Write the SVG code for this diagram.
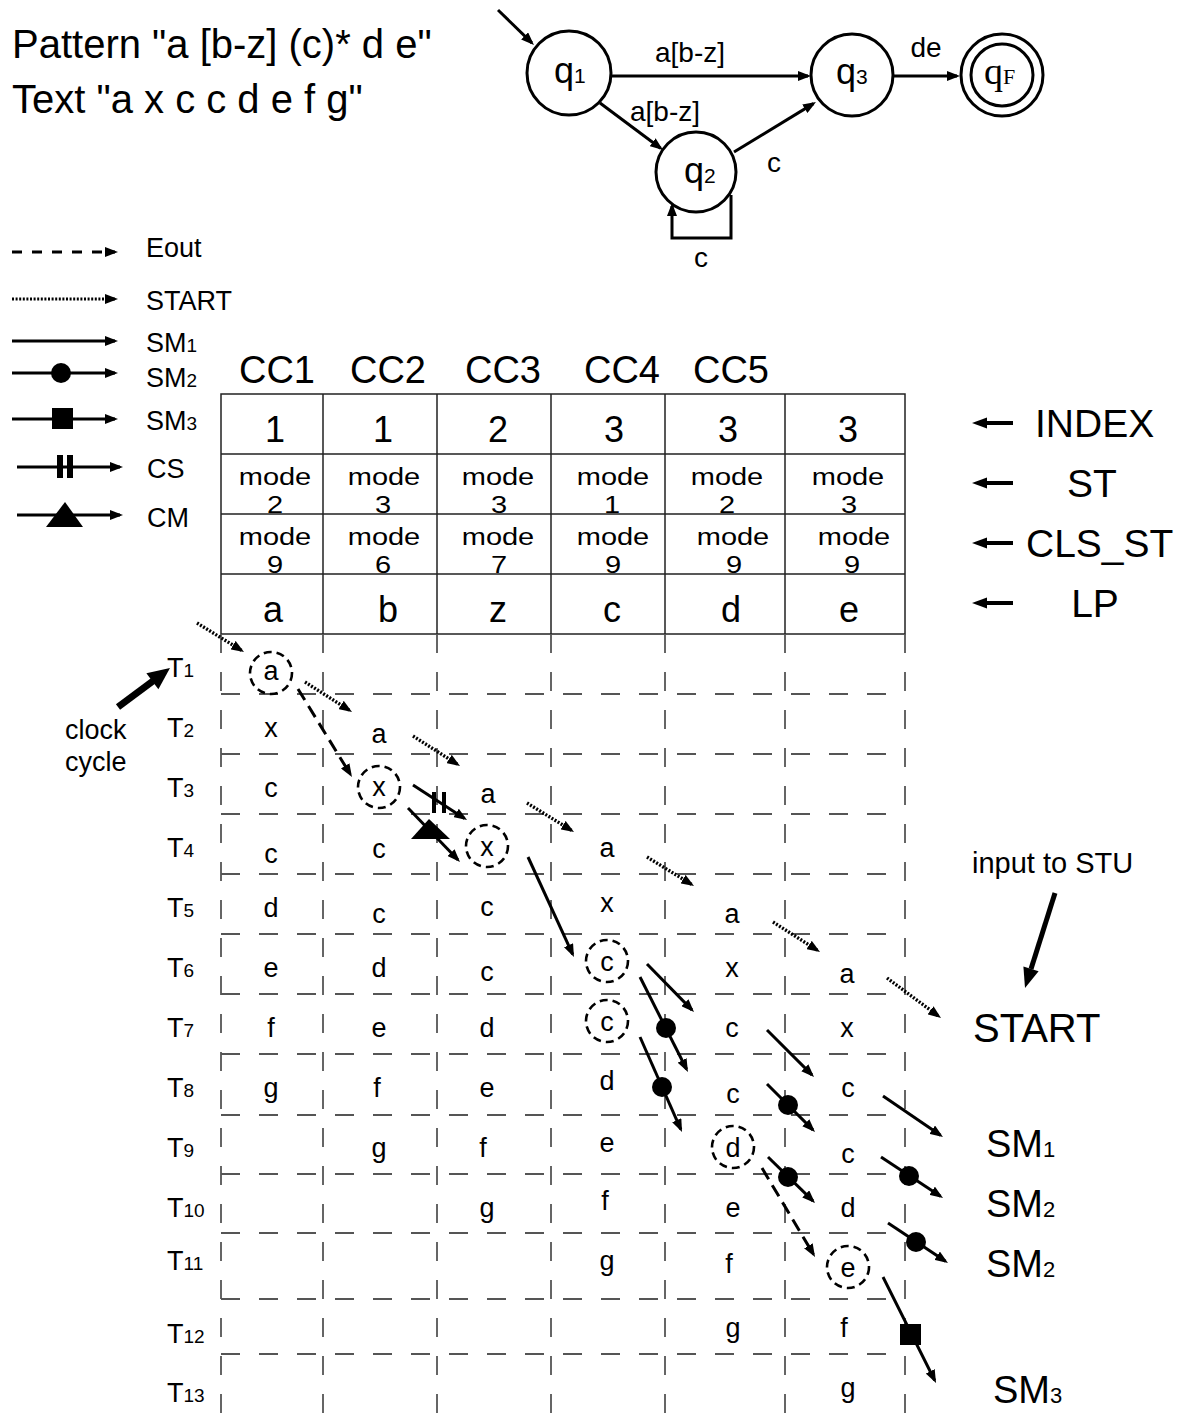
<svg xmlns="http://www.w3.org/2000/svg" width="1184" height="1416" viewBox="0 0 1184 1416">
<defs>
<style>
.t{font-family:"Liberation Sans",Arial,sans-serif;fill:#000}
.s{font-family:"Liberation Serif","Times New Roman",serif;fill:#000}
.m{text-anchor:middle}
.grid{stroke:#555;stroke-width:1.8;stroke-dasharray:19 19;fill:none}
.tbl{stroke:#222;stroke-width:1.5;fill:none}
.ar{stroke:#000;stroke-width:3;fill:none;marker-end:url(#ah)}
.dot{stroke-dasharray:2 1.6;stroke-width:3.4}
.dsh{stroke-dasharray:13 7}
.circ{stroke:#000;stroke-width:2.6;stroke-dasharray:8 5;fill:none}
.node{stroke:#000;stroke-width:3;fill:#fff}
.thick{stroke:#000;fill:none}
</style>
<marker id="ah" markerWidth="13" markerHeight="10" refX="10" refY="5" orient="auto" markerUnits="userSpaceOnUse"><path d="M0,0L13,5L0,10z" fill="#000"/></marker>
</defs>
<rect width="1184" height="1416" fill="#fff"/>

<!-- titles -->
<g id="titles">
<text class="t" x="12" y="58" font-size="40">Pattern "a [b-z] (c)* d e"</text>
<text class="t" x="12" y="113" font-size="40">Text "a x c c d e f g"</text>
</g>

<!-- automaton -->
<g id="q1"><circle class="node" cx="569" cy="73" r="42"/><text class="t" x="554" y="83" font-size="36">q<tspan font-size="21">1</tspan></text></g>
<g id="q2"><circle class="node" cx="696" cy="172" r="40"/><text class="t" x="684" y="183" font-size="36">q<tspan font-size="21">2</tspan></text></g>
<g id="q3"><circle class="node" cx="852" cy="75" r="41"/><text class="t" x="836" y="84" font-size="36">q<tspan font-size="21">3</tspan></text></g>
<g id="qF"><circle class="node" cx="1002" cy="75" r="41"/><circle class="node" cx="1002" cy="75" r="31"/><text class="s" x="984" y="84" font-size="38">q<tspan font-size="22">F</tspan></text></g>

<!-- legend -->
<g id="legend">
<line class="ar dsh" x1="12" y1="252" x2="115" y2="252" style="stroke-dasharray:10 10"/>
<text class="t" x="146" y="257" font-size="27">Eout</text>
<line class="ar dot" x1="12" y1="299" x2="115" y2="299" style="stroke-width:3"/>
<text class="t" x="146" y="310" font-size="27">START</text>
<line class="ar" x1="12" y1="341" x2="115" y2="341"/>
<text class="t" x="146" y="352" font-size="27">SM<tspan font-size="19">1</tspan></text>
<line class="ar" x1="12" y1="373" x2="115" y2="373"/>
<circle cx="61" cy="373" r="10" fill="#000"/>
<text class="t" x="146" y="387" font-size="27">SM<tspan font-size="19">2</tspan></text>
<line class="ar" x1="12" y1="419" x2="115" y2="419"/>
<rect x="52" y="408" width="21" height="21" fill="#000"/>
<text class="t" x="146" y="430" font-size="27">SM<tspan font-size="19">3</tspan></text>
<line class="ar" x1="17" y1="467" x2="120" y2="467"/>
<rect x="57" y="455" width="6" height="23" fill="#000"/>
<rect x="67" y="455" width="6" height="23" fill="#000"/>
<text class="t" x="147" y="478" font-size="27">CS</text>
<line class="ar" x1="17" y1="515" x2="120" y2="515"/>
<polygon points="46,527 83,527 65,502" fill="#000"/>
<text class="t" x="147" y="527" font-size="27">CM</text>
</g>

<!-- table -->
<g id="table">
<rect class="tbl" x="221" y="394" width="684" height="240"/>
<path class="tbl" d="M221,454H905M221,514H905M221,574H905M323,394V634M437,394V634M551,394V634M665,394V634M785,394V634"/>
<g class="t m" font-size="38">
<text x="277" y="383">CC1</text><text x="388" y="383">CC2</text><text x="503" y="383">CC3</text><text x="622" y="383">CC4</text><text x="731" y="383">CC5</text>
</g>
<g class="t m" font-size="36">
<text x="275" y="442">1</text><text x="383" y="442">1</text><text x="498" y="442">2</text><text x="614" y="442">3</text><text x="728" y="442">3</text><text x="848" y="442">3</text>
<text x="273" y="622">a</text><text x="388" y="622">b</text><text x="498" y="622">z</text><text x="612" y="622">c</text><text x="731" y="622">d</text><text x="849" y="622">e</text>
</g>
<g class="t m" font-size="29">
<text transform="translate(275,485) scale(1,0.84)">mode</text><text transform="translate(275,513) scale(1,0.84)">2</text>
<text transform="translate(384,485) scale(1,0.84)">mode</text><text transform="translate(383,513) scale(1,0.84)">3</text>
<text transform="translate(498,485) scale(1,0.84)">mode</text><text transform="translate(499,513) scale(1,0.84)">3</text>
<text transform="translate(613,485) scale(1,0.84)">mode</text><text transform="translate(612,513) scale(1,0.84)">1</text>
<text transform="translate(727,485) scale(1,0.84)">mode</text><text transform="translate(727,513) scale(1,0.84)">2</text>
<text transform="translate(848,485) scale(1,0.84)">mode</text><text transform="translate(849,513) scale(1,0.84)">3</text>
<text transform="translate(275,545) scale(1,0.84)">mode</text><text transform="translate(275,573) scale(1,0.84)">9</text>
<text transform="translate(384,545) scale(1,0.84)">mode</text><text transform="translate(383,573) scale(1,0.84)">6</text>
<text transform="translate(498,545) scale(1,0.84)">mode</text><text transform="translate(499,573) scale(1,0.84)">7</text>
<text transform="translate(613,545) scale(1,0.84)">mode</text><text transform="translate(613,573) scale(1,0.84)">9</text>
<text transform="translate(733,545) scale(1,0.84)">mode</text><text transform="translate(734,573) scale(1,0.84)">9</text>
<text transform="translate(854,545) scale(1,0.84)">mode</text><text transform="translate(852,573) scale(1,0.84)">9</text>
</g>
</g>

<!-- right labels -->
<g id="row-labels">
<g fill="#000">
<rect x="984" y="421" width="29" height="4"/><polygon points="972,423 987,417.5 987,428.5"/>
<rect x="984" y="481" width="29" height="4"/><polygon points="972,483 987,477.5 987,488.5"/>
<rect x="984" y="541" width="29" height="4"/><polygon points="972,543 987,537.5 987,548.5"/>
<rect x="984" y="601" width="29" height="4"/><polygon points="972,603 987,597.5 987,608.5"/>
</g>
<text class="t" x="1035" y="437" font-size="39">INDEX</text>
<text class="t m" x="1092" y="497" font-size="39">ST</text>
<text class="t" x="1026" y="557" font-size="39">CLS_ST</text>
<text class="t m" x="1095" y="617" font-size="39">LP</text>
</g>

<!-- grid -->
<g id="grid">
<path class="grid" d="M221,694H905M221,754H905M221,814H905M221,874H905M221,934H905M221,994H905M221,1054H905M221,1115H905M221,1174H905M221,1233H905M221,1299H905M221,1354H905"/>
<path class="grid" d="M221,634V1416M323,634V1416M437,634V1416M551,634V1416M665,634V1416M785,634V1416M905,634V1416"/>
</g>

<g id="time-labels" class="t" font-size="27">
<text x="167" y="677">T<tspan font-size="19">1</tspan></text>
<text x="167" y="737">T<tspan font-size="19">2</tspan></text>
<text x="167" y="797">T<tspan font-size="19">3</tspan></text>
<text x="167" y="857">T<tspan font-size="19">4</tspan></text>
<text x="167" y="917">T<tspan font-size="19">5</tspan></text>
<text x="167" y="977">T<tspan font-size="19">6</tspan></text>
<text x="167" y="1037">T<tspan font-size="19">7</tspan></text>
<text x="167" y="1097">T<tspan font-size="19">8</tspan></text>
<text x="167" y="1157">T<tspan font-size="19">9</tspan></text>
<text x="167" y="1217">T<tspan font-size="19">10</tspan></text>
<text x="167" y="1270">T<tspan font-size="19">11</tspan></text>
<text x="167" y="1343">T<tspan font-size="19">12</tspan></text>
<text x="167" y="1402">T<tspan font-size="19">13</tspan></text>
</g>

<g id="cells" class="t m" font-size="27">
<text x="271" y="680">a</text>
<text x="271" y="737">x</text><text x="379" y="743">a</text>
<text x="271" y="797">c</text><text x="379" y="796">x</text><text x="488" y="803">a</text>
<text x="271" y="863">c</text><text x="379" y="858">c</text><text x="487" y="856">x</text><text x="607" y="857">a</text>
<text x="271" y="917">d</text><text x="379" y="923">c</text><text x="487" y="916">c</text><text x="607" y="912">x</text><text x="732" y="923">a</text>
<text x="271" y="977">e</text><text x="379" y="977">d</text><text x="487" y="981">c</text><text x="607" y="971">c</text><text x="732" y="977">x</text><text x="847" y="983">a</text>
<text x="271" y="1037">f</text><text x="379" y="1037">e</text><text x="487" y="1037">d</text><text x="607" y="1031">c</text><text x="732" y="1037">c</text><text x="847" y="1037">x</text>
<text x="271" y="1097">g</text><text x="377" y="1097">f</text><text x="487" y="1097">e</text><text x="607" y="1090">d</text><text x="733" y="1103">c</text><text x="848" y="1097">c</text>
<text x="379" y="1157">g</text><text x="483" y="1157">f</text><text x="607" y="1152">e</text><text x="733" y="1157">d</text><text x="848" y="1163">c</text>
<text x="487" y="1217">g</text><text x="605" y="1210">f</text><text x="733" y="1217">e</text><text x="848" y="1217">d</text>
<text x="607" y="1270">g</text><text x="729" y="1273">f</text><text x="848" y="1277">e</text>
<text x="733" y="1337">g</text><text x="844" y="1337">f</text>
<text x="848" y="1397">g</text>
</g>

<g id="matches">
<circle class="circ" cx="271" cy="673" r="21"/>
<circle class="circ" cx="379" cy="787" r="21"/>
<circle class="circ" cx="487" cy="846" r="21"/>
<circle class="circ" cx="607" cy="961" r="21"/>
<circle class="circ" cx="607" cy="1021" r="21"/>
<circle class="circ" cx="733" cy="1147" r="21"/>
<circle class="circ" cx="848" cy="1267" r="21"/>
</g>

<!-- annotations -->
<g id="annotations">
<text class="t" x="65" y="739" font-size="27">clock</text>
<text class="t" x="65" y="771" font-size="27">cycle</text>
<text class="t" x="972" y="873" font-size="29">input to STU</text>
<text class="t" x="973" y="1042" font-size="40">START</text>
<text class="t" x="986" y="1157" font-size="38">SM<tspan font-size="22">1</tspan></text>
<text class="t" x="986" y="1217" font-size="38">SM<tspan font-size="22">2</tspan></text>
<text class="t" x="986" y="1277" font-size="38">SM<tspan font-size="22">2</tspan></text>
<text class="t" x="993" y="1403" font-size="38">SM<tspan font-size="22">3</tspan></text>
</g>

<!-- connectors -->
<g id="connectors">
<line class="ar" x1="498" y1="10" x2="531.8" y2="42.9"/>
<line class="ar" x1="611" y1="76" x2="808" y2="76"/>
<line class="ar" x1="600" y1="103" x2="660.6" y2="148.2"/>
<line class="ar" x1="734" y1="152" x2="813.4" y2="103.6"/>
<line class="ar" x1="893" y1="76" x2="957" y2="76"/>
<path class="ar" d="M731,195V238H672V206"/>
<g class="t m" font-size="28">
<text x="690" y="62">a[b-z]</text>
<text x="665" y="121">a[b-z]</text>
<text x="774" y="172">c</text>
<text x="926" y="57">de</text>
<text x="701" y="267">c</text>
</g>

<line class="thick" x1="118" y1="707" x2="153" y2="681" stroke-width="7"/>
<polygon points="170,668 158.4,689.2 146.4,673.2" fill="#000"/>
<line class="thick" x1="1055" y1="893" x2="1031" y2="969" stroke-width="5"/>
<polygon points="1025,988 1038.6,971.3 1023.4,966.5" fill="#000"/>

<line class="ar dot" x1="197" y1="623" x2="241.5" y2="650.4"/>
<line class="ar dot" x1="305" y1="682" x2="349.5" y2="710.4"/>
<line class="ar dot" x1="413" y1="736" x2="457.5" y2="764.4"/>
<line class="ar dot" x1="527" y1="803" x2="571.5" y2="830.4"/>
<line class="ar dot" x1="647" y1="857" x2="691.5" y2="884.4"/>
<line class="ar dot" x1="773" y1="922" x2="817.5" y2="950.4"/>
<line class="ar dot" x1="887" y1="978" x2="938.6" y2="1016.2"/>

<line class="ar dsh" x1="298" y1="689" x2="350.4" y2="774.4"/>
<line class="ar dsh" x1="762" y1="1168" x2="813.5" y2="1254.4"/>

<line class="ar" x1="413" y1="785" x2="464.5" y2="818.4"/>
<rect x="432" y="792" width="4" height="21" fill="#000"/>
<rect x="442" y="792" width="4" height="21" fill="#000"/>
<line class="ar" x1="408" y1="808" x2="457.9" y2="859.8"/>
<polygon points="411,839 450,839 429,819" fill="#000"/>

<line class="ar" x1="528" y1="857" x2="572.7" y2="954.3"/>
<line class="ar" x1="647" y1="964" x2="691.9" y2="1009.9"/>
<line class="ar" x1="767" y1="1030" x2="811.9" y2="1074.9"/>
<line class="ar" x1="883" y1="1096" x2="940.5" y2="1135.3"/>

<line class="ar" x1="640" y1="977" x2="686.6" y2="1069.3"/>
<circle cx="666" cy="1028" r="10" fill="#000"/>
<line class="ar" x1="640" y1="1037" x2="680.8" y2="1129.3"/>
<circle cx="662" cy="1087" r="10" fill="#000"/>
<line class="ar" x1="767" y1="1084" x2="812.9" y2="1129.9"/>
<circle cx="788" cy="1105" r="10" fill="#000"/>
<line class="ar" x1="768" y1="1157" x2="812.9" y2="1200.9"/>
<circle cx="788" cy="1177" r="10" fill="#000"/>
<line class="ar" x1="881" y1="1157" x2="940.5" y2="1196.3"/>
<circle cx="909" cy="1176" r="10" fill="#000"/>
<line class="ar" x1="888" y1="1223" x2="945.5" y2="1261.3"/>
<circle cx="916" cy="1242" r="10" fill="#000"/>

<line class="ar" x1="883" y1="1277" x2="934.7" y2="1380.3"/>
<rect x="900" y="1324" width="21" height="21" fill="#000"/>
</g>
</svg>
